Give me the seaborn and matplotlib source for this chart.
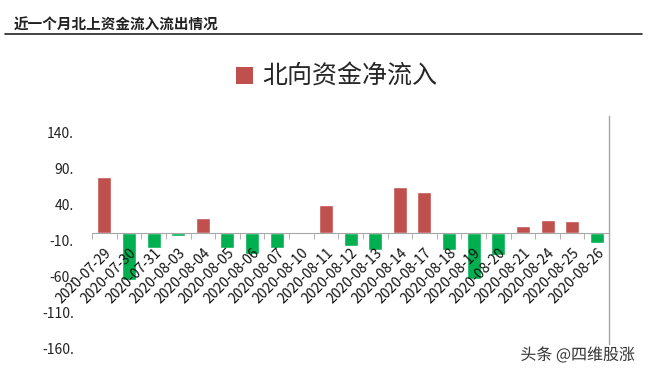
import matplotlib
matplotlib.use("Agg")
import matplotlib.pyplot as plt
import matplotlib.patheffects as pe
from matplotlib.patches import Patch
from matplotlib.ticker import FixedLocator
import numpy as np
import pandas as pd
import seaborn as sns

# Northbound net inflow by trading day
dates = ["2020-07-29", "2020-07-30", "2020-07-31", "2020-08-03", "2020-08-04",
         "2020-08-05", "2020-08-06", "2020-08-07", "2020-08-10", "2020-08-11",
         "2020-08-12", "2020-08-13", "2020-08-14", "2020-08-17", "2020-08-18",
         "2020-08-19", "2020-08-20", "2020-08-21", "2020-08-24", "2020-08-25",
         "2020-08-26"]
net_inflow = [78, -65, -20, -3, 21, -21, -28, -20, 0, 39,
              -18, -23, 65, 57.5, -23, -63, -30, 10, 19, 17, -13]
y_ticks = [140, 90, 40, -10, -60, -110, -160]

red = "#C0504D"
green = "#00B050"

df = pd.DataFrame({"date": dates, "value": net_inflow})
df["sign"] = np.where(df["value"] >= 0, "pos", "neg")

sns.set_style("white")
plt.rcParams["font.family"] = ["Noto Sans CJK SC", "DejaVu Sans"]

fig = plt.figure(figsize=(6.48, 3.74), dpi=100)
ax = fig.add_axes([0.142, 0.064, 0.798, 0.626])

sns.barplot(data=df, x="date", y="value", hue="sign",
            palette={"pos": red, "neg": green}, width=0.57,
            legend=False, ax=ax, saturation=1)
for p in ax.patches:
    p.set_zorder(1)

ax.set_ylim(-162, 163)
ax.set_xlim(-0.5, len(dates) - 0.5)
ax.set_xlabel("")
ax.set_ylabel("")

# y axis: odd labels with trailing dot, no tick marks
ax.set_yticks(y_ticks)
ax.set_yticklabels([f"{v}." for v in y_ticks], fontsize=10, color="#222222")
ax.tick_params(axis="y", length=0, pad=13)

# x axis sits on zero, ticks between categories; labels drawn over bars
for s in ["left", "top"]:
    ax.spines[s].set_visible(False)
ax.spines["bottom"].set_position(("data", 0))
ax.spines["bottom"].set_color("#A6A6A6")
ax.spines["right"].set_color("#A6A6A6")
ax.spines["right"].set_linewidth(1)
ax.xaxis.set_zorder(5)
ax.xaxis.set_minor_locator(FixedLocator(np.arange(-0.5, len(dates), 1)))
ax.tick_params(axis="x", which="major", length=0, pad=9)
ax.tick_params(axis="x", which="minor", length=4, color="#A6A6A6", direction="out", bottom=True)
plt.setp(ax.get_xticklabels(), rotation=45, ha="right", va="top",
         rotation_mode="anchor", fontsize=10, color="#111111")
ax.grid(False)

# legend as chart title
fig.legend(handles=[Patch(facecolor=red, edgecolor="none", label="北向资金净流入")],
           loc="center", bbox_to_anchor=(0.52, 0.794), frameon=False,
           fontsize=18, handlelength=0.65, handleheight=0.65, handletextpad=0.4)

# page header
fig.text(0.021, 0.935, "近一个月北上资金流入流出情况", fontsize=10.5,
         fontweight="bold", color="#222222", va="center")
fig.add_artist(plt.Line2D([0.008, 0.99], [0.909, 0.909], color="#222222", lw=1.2))

# watermark
fig.text(0.98, 0.05, "头条 @四维股涨", fontsize=11.5, color="#333333",
         ha="right", va="center",
         path_effects=[pe.withStroke(linewidth=2.5, foreground="white")])

fig.savefig("out.png", dpi=100)
